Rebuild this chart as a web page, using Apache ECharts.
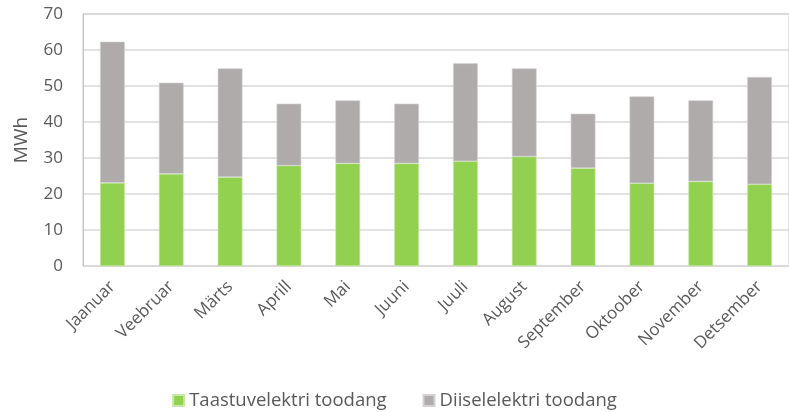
<!DOCTYPE html>
<html lang="et" style="height: 100%">
<head>
  <meta charset="utf-8">
</head>
<body style="height: 100%; margin: 0">
  <div id="container" style="width: 789px; height: 412px"></div>
  <script type="text/javascript" src="https://fastly.jsdelivr.net/npm/echarts@6.0.0/dist/echarts.min.js"></script>
  <script type="text/javascript">
    // kuud
    const months = ['Jaanuar', 'Veebruar', 'Märts', 'Aprill', 'Mai', 'Juuni',
      'Juuli', 'August', 'September', 'Oktoober', 'November', 'Detsember'];
    // taastuvelektri toodang (MWh)
    const renewable = [23.1, 25.6, 24.7, 27.9, 28.5, 28.5, 29.1, 30.4, 27.2, 23.0, 23.5, 22.7];
    // diiselelektri toodang (MWh)
    const diesel = [39.2, 25.3, 30.2, 17.2, 17.5, 16.6, 27.2, 24.5, 15.1, 24.1, 22.5, 29.8];

    var dom = document.getElementById('container');
    var myChart = echarts.init(dom, null, { renderer: 'canvas' });

    var font = 'Open Sans';
    var option = {
      animation: false,
      grid: {
        left: 83,
        right: 0,
        top: 14,
        bottom: 146,
        show: true,
        borderColor: '#c4c4c4',
        borderWidth: 1
      },
      legend: {
        top: 386,
        left: 'center',
        icon: 'rect',
        itemWidth: 11,
        itemHeight: 11,
        itemGap: 36,
        textStyle: { color: '#595959', fontSize: 18.5, fontFamily: font }
      },
      xAxis: {
        type: 'category',
        data: months,
        axisLine: { lineStyle: { color: '#d9d9d9' } },
        axisTick: { show: false },
        axisLabel: {
          rotate: 45,
          interval: 0,
          margin: 18,
          color: '#595959',
          fontSize: 17,
          fontFamily: font
        }
      },
      yAxis: {
        type: 'value',
        min: 0,
        max: 70,
        interval: 10,
        name: 'MWh',
        nameLocation: 'middle',
        nameGap: 52,
        nameTextStyle: { color: '#595959', fontSize: 19, fontFamily: font },
        axisLine: { show: true, lineStyle: { color: '#c4c4c4' } },
        axisLabel: { color: '#595959', fontSize: 17, fontFamily: font, margin: 20 },
        splitLine: { lineStyle: { color: '#d9d9d9', width: 1.5 } }
      },
      series: [
        {
          name: 'Taastuvelektri toodang',
          type: 'bar',
          stack: 'total',
          barWidth: '42%',
          itemStyle: { color: '#92d050', borderColor: '#c8e8a8', borderWidth: 0.6 },
          data: renewable
        },
        {
          name: 'Diiselelektri toodang',
          type: 'bar',
          stack: 'total',
          itemStyle: { color: '#afabab', borderColor: '#d4d2d2', borderWidth: 0.6 },
          data: diesel
        }
      ]
    };

    myChart.setOption(option);
    window.addEventListener('resize', myChart.resize);
  </script>
</body>
</html>
